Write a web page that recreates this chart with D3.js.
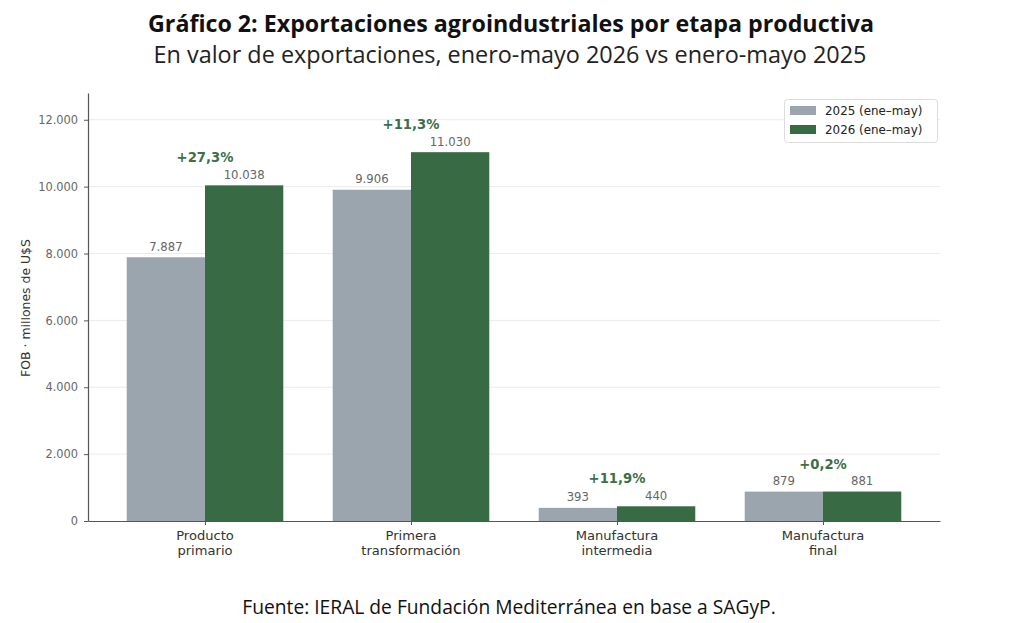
<!DOCTYPE html>
<html><head><meta charset="utf-8">
<script src="https://cdn.jsdelivr.net/npm/d3@7"></script>
<style>body{margin:0;background:#fff}svg{display:block}</style>
</head><body><svg id="c" width="1024" height="623"></svg>
<script>
const categories = ["Producto\nprimario", "Primera\ntransformación", "Manufactura\nintermedia", "Manufactura\nfinal"];
const values2025 = [7887, 9906, 393, 879];
const values2026 = [10038, 11030, 440, 881];
const valueLabels2025 = ["7.887", "9.906", "393", "879"];
const valueLabels2026 = ["10.038", "11.030", "440", "881"];
const changeLabels = ["+27,3%", "+11,3%", "+11,9%", "+0,2%"];
const yTicks = [0, 2000, 4000, 6000, 8000, 10000, 12000];
const seriesNames = ["2025 (ene–may)", "2026 (ene–may)"];

const colGray = "#9BA5AE", colGreen = "#386B44";
const svg = d3.select("#c");
const L = 88, R = 940, T = 93, B = 521;
const bw = 0.38;
const x = d3.scaleLinear().domain([-0.568, 3.568]).range([L, R]);
const y = d3.scaleLinear().domain([0, 12800]).range([B, T]);
const fmt = v => v === 0 ? "0" : d3.format(",")(v).replace(/,/g, ".");

// titles
function fitText(sel, target) {
  const w = sel.node().getComputedTextLength();
  const fs = parseFloat(sel.attr("font-size"));
  sel.attr("font-size", fs * target / w);
}
fitText(svg.append("text").attr("x", 511).attr("y", 32).attr("text-anchor", "middle")
  .attr("font-family", "Open Sans").attr("font-weight", 700).attr("font-size", 20)
  .attr("fill", "#111").text("Gráfico 2: Exportaciones agroindustriales por etapa productiva"), 726);
fitText(svg.append("text").attr("x", 510).attr("y", 63).attr("text-anchor", "middle")
  .attr("font-family", "Open Sans").attr("font-weight", 400).attr("font-size", 20)
  .attr("fill", "#222").text("En valor de exportaciones, enero-mayo 2026 vs enero-mayo 2025"), 713);
fitText(svg.append("text").attr("x", 509).attr("y", 614).attr("text-anchor", "middle")
  .attr("font-family", "Open Sans").attr("font-size", 16)
  .attr("fill", "#111").text("Fuente: IERAL de Fundación Mediterránea en base a SAGyP."), 534);

// grid
svg.append("g").selectAll("line").data(yTicks.slice(1)).join("line")
  .attr("x1", L).attr("x2", R).attr("y1", d => y(d)).attr("y2", d => y(d))
  .attr("stroke", "#ebebeb").attr("stroke-width", 1);

// bars
const g = svg.append("g");
g.selectAll("rect.a").data(values2025).join("rect").attr("class", "a")
  .attr("x", (d, i) => x(i - bw)).attr("width", (d, i) => x(i) - x(i - bw))
  .attr("y", d => y(d)).attr("height", d => y(0) - y(d)).attr("fill", colGray);
g.selectAll("rect.b").data(values2026).join("rect").attr("class", "b")
  .attr("x", (d, i) => x(i)).attr("width", (d, i) => x(i + bw) - x(i))
  .attr("y", d => y(d)).attr("height", d => y(0) - y(d)).attr("fill", colGreen);

// value labels
const vf = "DejaVu Sans";
g.selectAll("text.a").data(values2025).join("text")
  .attr("x", (d, i) => x(i - bw / 2)).attr("y", d => y(d) - 6.5)
  .attr("text-anchor", "middle").attr("font-family", vf).attr("font-size", 11.7)
  .attr("fill", "#666").text((d, i) => valueLabels2025[i]);
g.selectAll("text.b").data(values2026).join("text")
  .attr("x", (d, i) => x(i + bw / 2)).attr("y", d => y(d) - 6.5)
  .attr("text-anchor", "middle").attr("font-family", vf).attr("font-size", 11.7)
  .attr("fill", "#666").text((d, i) => valueLabels2026[i]);
g.selectAll("text.c").data(changeLabels).join("text")
  .attr("x", (d, i) => x(i)).attr("y", (d, i) => y(Math.max(values2025[i], values2026[i])) - 23)
  .attr("text-anchor", "middle").attr("font-family", vf).attr("font-weight", "bold")
  .attr("font-size", 13.2).attr("fill", "#3D7048").text(d => d);

// axes
const ax = svg.append("g").attr("transform", `translate(0,${B})`)
  .call(d3.axisBottom(x).tickValues([0, 1, 2, 3]).tickSize(4).tickSizeOuter(0).tickFormat(""));
ax.select(".domain").attr("stroke", "#555").attr("stroke-width", 1.2);
ax.selectAll(".tick line").attr("stroke", "#555");
categories.forEach((c, i) => {
  const t = svg.append("text").attr("x", x(i)).attr("text-anchor", "middle")
    .attr("font-family", vf).attr("font-size", 13.1).attr("fill", "#333");
  c.split("\n").forEach((s, k) => t.append("tspan").attr("x", x(i)).attr("y", B + 19 + k * 15).text(s));
});
const ay = svg.append("g").attr("transform", `translate(${L},0)`)
  .call(d3.axisLeft(y).tickValues(yTicks).tickSize(4).tickSizeOuter(0).tickPadding(6).tickFormat(fmt));
ay.select(".domain").attr("stroke", "#555").attr("stroke-width", 1.2);
ay.selectAll(".tick line").attr("stroke", "#555");
ay.selectAll(".tick text").attr("font-family", vf).attr("font-size", 11.4).attr("fill", "#666");
svg.append("text").attr("transform", `translate(30,${(T + B) / 2 + 1}) rotate(-90)`)
  .attr("text-anchor", "middle").attr("font-family", vf).attr("font-size", 12.45).attr("fill", "#333")
  .text("FOB · millones de U$S");

// legend
const lg = svg.append("g");
lg.append("rect").attr("x", 784.5).attr("y", 99.5).attr("width", 153).attr("height", 43).attr("rx", 3)
  .attr("fill", "#fff").attr("fill-opacity", 0.9).attr("stroke", "#dcdcdc");
[colGray, colGreen].forEach((c, k) => {
  lg.append("rect").attr("x", 790).attr("y", 106 + k * 19).attr("width", 26).attr("height", 9).attr("fill", c);
  lg.append("text").attr("x", 825).attr("y", 115 + k * 19).attr("font-family", vf).attr("font-size", 11.9)
    .attr("fill", "#222").text(seriesNames[k]);
});
</script></body></html>
